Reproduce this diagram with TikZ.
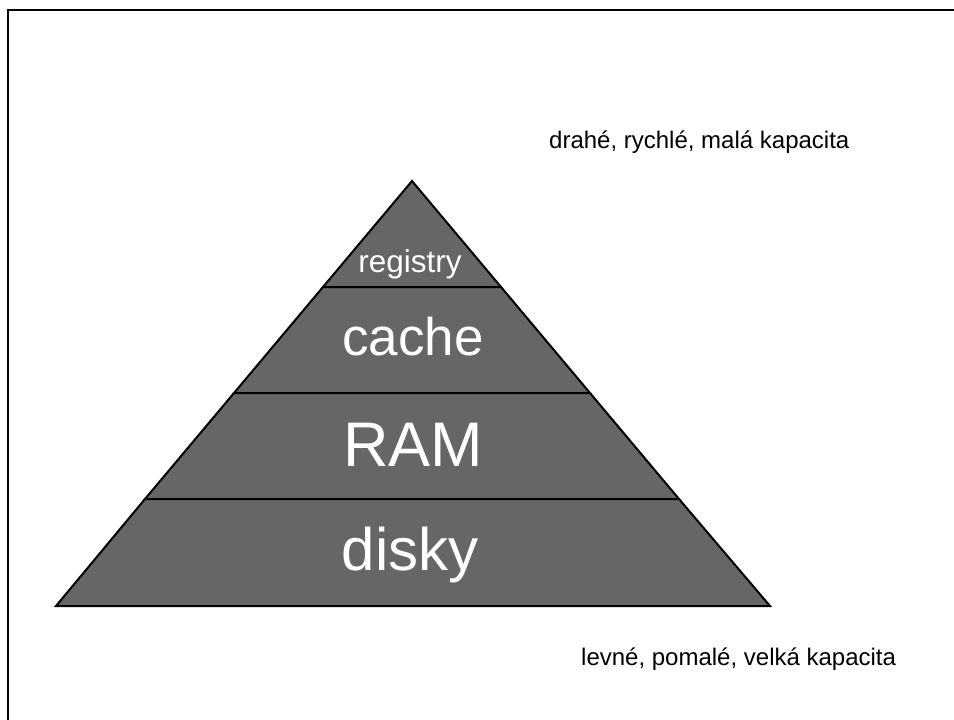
\documentclass[tikz,border=0pt]{standalone}
\usepackage{fontspec}
\setmainfont{Liberation Sans}
\definecolor{pyrgray}{HTML}{666666}
\tikzset{
  layer/.style={fill=pyrgray, draw=black, line width=2pt, line join=miter},
  lbl/.style={anchor=base, text=white, inner sep=0pt},
  side/.style={anchor=base west, text=black, inner sep=0pt, font=\fontsize{24}{28}\selectfont},
  frame/.style={line width=2.5pt, line join=miter}
}
\begin{document}
\begin{tikzpicture}[x=1pt, y=-1pt]
\useasboundingbox (0,0) rectangle (954,720);
\coordinate (fbl) at (8,730);
\coordinate (ftl) at (8,10);
\coordinate (ftr) at (964,10);
\begin{scope}
\clip (0,0) rectangle (954,720);
\draw[frame] (fbl) -- (ftl) -- (ftr);
\end{scope}
% layers
\coordinate (apex) at (412,181);
\coordinate (a1l) at (323,287); \coordinate (a1r) at (501,287);
\coordinate (a2l) at (234,393); \coordinate (a2r) at (590,393);
\coordinate (a3l) at (145,499); \coordinate (a3r) at (679,499);
\coordinate (bl) at (56,606); \coordinate (br) at (770,606);
\filldraw[layer] (apex) -- (a1r) -- (a1l) -- cycle;
\filldraw[layer] (a1l) -- (a1r) -- (a2r) -- (a2l) -- cycle;
\filldraw[layer] (a2l) -- (a2r) -- (a3r) -- (a3l) -- cycle;
\filldraw[layer] (a3l) -- (a3r) -- (br) -- (bl) -- cycle;
\node[lbl, font=\fontsize{31.5}{36}\selectfont] (reg) at (410,272) {registry};
\node[lbl, font=\fontsize{53}{60}\selectfont] (cache) at (413,355) {cache};
\node[lbl, font=\fontsize{63}{70}\selectfont] (ram) at (413,466) {RAM};
\node[lbl, font=\fontsize{60}{68}\selectfont] (disky) at (410,570) {disky};
\node[side] (top) at (549,148) {drahé, rychlé, malá kapacita};
\node[side] (bot) at (581,665) {levné, pomalé, velká kapacita};
\end{tikzpicture}
\end{document}
